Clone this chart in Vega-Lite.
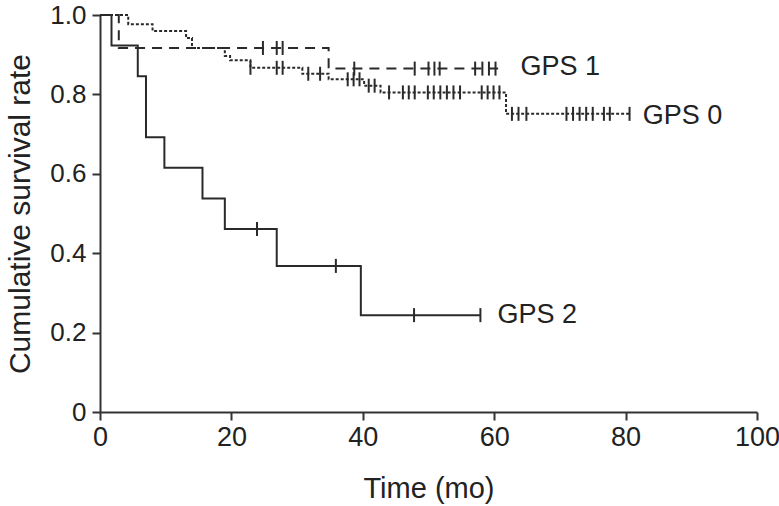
{
  "$schema": "https://vega.github.io/schema/vega-lite/v6.json",
  "width": 657,
  "height": 397,
  "autosize": {"type": "none"},
  "padding": {"left": 100, "top": 15, "right": 22, "bottom": 94},
  "background": "white",
  "config": {
    "view": {"stroke": null},
    "axis": {
      "grid": false,
      "domainColor": "#333333",
      "domainWidth": 2,
      "tickColor": "#333333",
      "tickWidth": 2,
      "tickSize": 8,
      "labelFont": "Liberation Sans",
      "labelFontSize": 27,
      "labelColor": "#222222",
      "labelFlush": false,
      "labelOverlap": false,
      "titleFont": "Liberation Sans",
      "titleFontWeight": "normal",
      "titleColor": "#222222"
    }
  },
  "datasets": {
    "curves": [
      {"group": "GPS 0", "t": 0, "s": 1.0},
      {"group": "GPS 0", "t": 4.3, "s": 0.977},
      {"group": "GPS 0", "t": 8.0, "s": 0.960},
      {"group": "GPS 0", "t": 13.1, "s": 0.942},
      {"group": "GPS 0", "t": 14.0, "s": 0.917},
      {"group": "GPS 0", "t": 19.0, "s": 0.897},
      {"group": "GPS 0", "t": 19.8, "s": 0.886},
      {"group": "GPS 0", "t": 22.9, "s": 0.867},
      {"group": "GPS 0", "t": 30.8, "s": 0.852},
      {"group": "GPS 0", "t": 34.8, "s": 0.838},
      {"group": "GPS 0", "t": 40.2, "s": 0.822},
      {"group": "GPS 0", "t": 42.7, "s": 0.805},
      {"group": "GPS 0", "t": 61.8, "s": 0.751},
      {"group": "GPS 0", "t": 80.6, "s": 0.751},
      {"group": "GPS 1", "t": 0, "s": 1.0},
      {"group": "GPS 1", "t": 2.86, "s": 0.917},
      {"group": "GPS 1", "t": 34.8, "s": 0.865},
      {"group": "GPS 1", "t": 60.6, "s": 0.865},
      {"group": "GPS 2", "t": 0, "s": 1.0},
      {"group": "GPS 2", "t": 1.75, "s": 0.923},
      {"group": "GPS 2", "t": 5.75, "s": 0.846},
      {"group": "GPS 2", "t": 7.0, "s": 0.692},
      {"group": "GPS 2", "t": 9.8, "s": 0.615},
      {"group": "GPS 2", "t": 15.6, "s": 0.538},
      {"group": "GPS 2", "t": 19.0, "s": 0.461},
      {"group": "GPS 2", "t": 26.9, "s": 0.368},
      {"group": "GPS 2", "t": 39.7, "s": 0.244},
      {"group": "GPS 2", "t": 57.9, "s": 0.244}
    ],
    "censors": [
      {"group": "GPS 0", "t": 22.9, "s": 0.867},
      {"group": "GPS 0", "t": 26.9, "s": 0.867},
      {"group": "GPS 0", "t": 27.8, "s": 0.867},
      {"group": "GPS 0", "t": 31.7, "s": 0.852},
      {"group": "GPS 0", "t": 33.5, "s": 0.852},
      {"group": "GPS 0", "t": 37.7, "s": 0.838},
      {"group": "GPS 0", "t": 38.6, "s": 0.838},
      {"group": "GPS 0", "t": 39.5, "s": 0.838},
      {"group": "GPS 0", "t": 40.9, "s": 0.822},
      {"group": "GPS 0", "t": 41.8, "s": 0.822},
      {"group": "GPS 0", "t": 44.0, "s": 0.805},
      {"group": "GPS 0", "t": 46.1, "s": 0.805},
      {"group": "GPS 0", "t": 47.0, "s": 0.805},
      {"group": "GPS 0", "t": 47.9, "s": 0.805},
      {"group": "GPS 0", "t": 49.9, "s": 0.805},
      {"group": "GPS 0", "t": 50.8, "s": 0.805},
      {"group": "GPS 0", "t": 51.8, "s": 0.805},
      {"group": "GPS 0", "t": 52.8, "s": 0.805},
      {"group": "GPS 0", "t": 53.8, "s": 0.805},
      {"group": "GPS 0", "t": 54.8, "s": 0.805},
      {"group": "GPS 0", "t": 58.1, "s": 0.805},
      {"group": "GPS 0", "t": 59.0, "s": 0.805},
      {"group": "GPS 0", "t": 59.9, "s": 0.805},
      {"group": "GPS 0", "t": 60.8, "s": 0.805},
      {"group": "GPS 0", "t": 62.7, "s": 0.751},
      {"group": "GPS 0", "t": 63.7, "s": 0.751},
      {"group": "GPS 0", "t": 64.9, "s": 0.751},
      {"group": "GPS 0", "t": 71.0, "s": 0.751},
      {"group": "GPS 0", "t": 72.0, "s": 0.751},
      {"group": "GPS 0", "t": 73.0, "s": 0.751},
      {"group": "GPS 0", "t": 74.0, "s": 0.751},
      {"group": "GPS 0", "t": 75.0, "s": 0.751},
      {"group": "GPS 0", "t": 76.7, "s": 0.751},
      {"group": "GPS 0", "t": 77.6, "s": 0.751},
      {"group": "GPS 0", "t": 80.6, "s": 0.751},
      {"group": "GPS 1", "t": 24.8, "s": 0.917},
      {"group": "GPS 1", "t": 26.9, "s": 0.917},
      {"group": "GPS 1", "t": 27.8, "s": 0.917},
      {"group": "GPS 1", "t": 38.7, "s": 0.865},
      {"group": "GPS 1", "t": 47.9, "s": 0.865},
      {"group": "GPS 1", "t": 50.0, "s": 0.865},
      {"group": "GPS 1", "t": 50.9, "s": 0.865},
      {"group": "GPS 1", "t": 51.7, "s": 0.865},
      {"group": "GPS 1", "t": 57.1, "s": 0.865},
      {"group": "GPS 1", "t": 58.2, "s": 0.865},
      {"group": "GPS 1", "t": 59.2, "s": 0.865},
      {"group": "GPS 1", "t": 60.2, "s": 0.865},
      {"group": "GPS 2", "t": 23.9, "s": 0.461},
      {"group": "GPS 2", "t": 35.9, "s": 0.368},
      {"group": "GPS 2", "t": 47.8, "s": 0.244},
      {"group": "GPS 2", "t": 57.9, "s": 0.244}
    ],
    "labels": [
      {"label": "GPS 1", "t": 64.0, "s": 0.868},
      {"label": "GPS 0", "t": 82.6, "s": 0.746},
      {"label": "GPS 2", "t": 60.5, "s": 0.244}
    ]
  },
  "layer": [
    {
      "data": {"name": "curves"},
      "mark": {"type": "line", "interpolate": "step-after", "strokeWidth": 2, "color": "#2a2a2a", "clip": false},
      "encoding": {
        "x": {"field": "t", "type": "quantitative", "scale": {"domain": [0, 100], "nice": false},
              "axis": {"values": [0, 20, 40, 60, 80, 100], "title": "Time (mo)", "labelPadding": 4,
                       "titleFontSize": 29, "titlePadding": 24}},
        "y": {"field": "s", "type": "quantitative", "scale": {"domain": [0, 1], "nice": false},
              "axis": {"values": [0, 0.2, 0.4, 0.6, 0.8, 1.0], "title": "Cumulative survival rate",
                       "labelExpr": "datum.value == 0 ? '0' : format(datum.value, '.1f')", "labelPadding": 6,
                       "labelFontSize": 26, "titleFontSize": 30, "titlePadding": 14}},
        "detail": {"field": "group"},
        "strokeDash": {"field": "group", "type": "nominal",
                       "scale": {"domain": ["GPS 0", "GPS 1", "GPS 2"], "range": [[3, 2], [10, 7], [1, 0]]},
                       "legend": null}
      }
    },
    {
      "data": {"name": "censors"},
      "mark": {"type": "tick", "orient": "vertical", "size": 14, "thickness": 2, "color": "#2a2a2a", "opacity": 1},
      "encoding": {
        "x": {"field": "t", "type": "quantitative"},
        "y": {"field": "s", "type": "quantitative"}
      }
    },
    {
      "data": {"name": "labels"},
      "mark": {"type": "text", "align": "left", "baseline": "middle", "font": "Liberation Sans", "fontSize": 27, "color": "#222222"},
      "encoding": {
        "x": {"field": "t", "type": "quantitative"},
        "y": {"field": "s", "type": "quantitative"},
        "text": {"field": "label"}
      }
    }
  ]
}
